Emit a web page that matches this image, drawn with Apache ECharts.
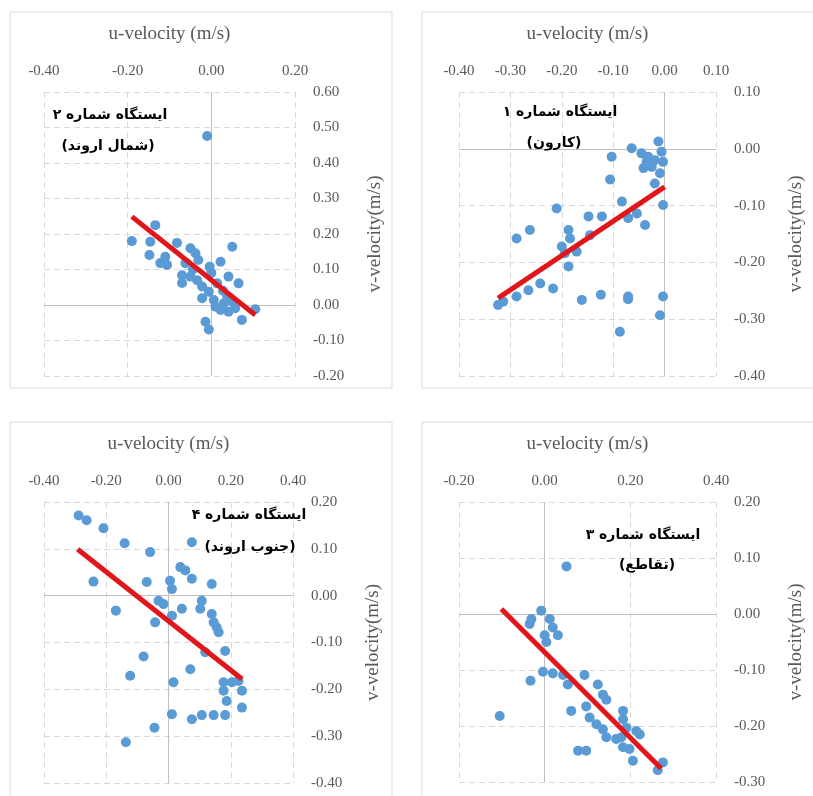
<!DOCTYPE html>
<html>
<head>
<meta charset="utf-8">
<script src="https://cdn.jsdelivr.net/npm/echarts@6/dist/echarts.min.js"></script>
<style>
  body { margin: 0; background: #fff; }
  #main { width: 813px; height: 796px; }
</style>
</head>
<body>
<div id="main"></div>
<script>
// station 2 (north arvand) - top left
const st2U = [-0.010, -0.190, -0.134, -0.146, -0.148, -0.122, -0.106, -0.110, -0.082, -0.050, -0.038, -0.031, -0.062, -0.070, -0.070, -0.050, -0.034, -0.022, -0.004, 0.022, 0.050, 0.041, 0.065, 0.014, -0.006, -0.022, 0.006, 0.030, 0.022, 0.041, 0.057, 0.073, 0.105, -0.014, -0.006, 0.038, -0.044, 0.000, 0.028, 0.010, 0.050];
const st2V = [0.476, 0.180, 0.225, 0.178, 0.141, 0.118, 0.113, 0.136, 0.175, 0.160, 0.146, 0.127, 0.118, 0.084, 0.062, 0.080, 0.070, 0.052, 0.108, 0.122, 0.164, 0.080, 0.061, 0.061, 0.037, 0.019, 0.014, 0.005, -0.014, -0.019, -0.009, -0.042, -0.012, -0.047, -0.069, 0.023, 0.100, 0.090, 0.040, -0.005, 0.010];
const st2Trend = [[-0.19, 0.249], [0.105, -0.028]];

// station 1 (karun) - top right
const st1U = [-0.324, -0.314, -0.288, -0.265, -0.242, -0.217, -0.288, -0.262, -0.210, -0.187, -0.184, -0.200, -0.194, -0.171, -0.187, -0.148, -0.122, -0.145, -0.161, -0.124, -0.071, -0.071, -0.087, -0.103, -0.106, -0.083, -0.071, -0.054, -0.038, -0.064, -0.045, -0.032, -0.012, -0.019, -0.003, -0.041, -0.025, -0.009, -0.019, -0.003, -0.003, -0.009, -0.006, -0.035];
const st1V = [-0.275, -0.269, -0.260, -0.249, -0.237, -0.246, -0.158, -0.143, -0.105, -0.143, -0.158, -0.172, -0.184, -0.181, -0.207, -0.119, -0.119, -0.152, -0.266, -0.257, -0.260, -0.265, -0.322, -0.014, -0.054, -0.093, -0.122, -0.114, -0.134, 0.001, -0.008, -0.014, 0.013, -0.020, -0.023, -0.034, -0.032, -0.043, -0.061, -0.099, -0.260, -0.293, -0.005, -0.023];
const st1Trend = [[-0.324, -0.263], [0.0, -0.067]];

// station 4 (south arvand) - bottom left
const st4U = [-0.289, -0.263, -0.209, -0.141, -0.059, 0.075, -0.241, -0.169, -0.070, 0.005, 0.011, 0.038, 0.054, 0.075, 0.139, -0.032, -0.016, -0.043, 0.011, 0.043, 0.107, 0.102, 0.139, 0.145, 0.155, 0.161, 0.118, 0.182, -0.080, -0.123, 0.070, 0.016, 0.177, 0.204, 0.177, 0.236, 0.187, 0.236, 0.011, 0.075, 0.107, 0.145, 0.182, -0.045, -0.137, 0.225];
const st4V = [0.171, 0.161, 0.144, 0.112, 0.093, 0.114, 0.030, -0.032, 0.029, 0.032, 0.014, 0.061, 0.054, 0.036, 0.025, -0.011, -0.018, -0.057, -0.043, -0.028, -0.011, -0.028, -0.039, -0.057, -0.068, -0.078, -0.121, -0.118, -0.130, -0.171, -0.157, -0.185, -0.185, -0.185, -0.203, -0.203, -0.225, -0.239, -0.253, -0.264, -0.255, -0.255, -0.255, -0.282, -0.313, -0.182];
const st4Trend = [[-0.292, 0.099], [0.236, -0.178]];

// station 3 (junction) - bottom right
const st3U = [0.051, -0.105, -0.033, -0.031, -0.035, -0.008, 0.012, 0.019, 0.031, 0.000, 0.004, -0.004, 0.019, 0.043, 0.054, 0.093, 0.124, 0.136, 0.144, 0.062, 0.097, 0.105, 0.121, 0.136, 0.144, 0.183, 0.183, 0.191, 0.214, 0.222, 0.179, 0.183, 0.198, 0.206, 0.078, 0.097, 0.264, 0.276, 0.167];
const st3V = [0.085, -0.182, -0.119, -0.009, -0.018, 0.006, -0.009, -0.024, -0.038, -0.038, -0.050, -0.103, -0.106, -0.109, -0.126, -0.109, -0.126, -0.144, -0.153, -0.173, -0.165, -0.185, -0.197, -0.206, -0.220, -0.173, -0.188, -0.203, -0.209, -0.215, -0.220, -0.238, -0.241, -0.262, -0.244, -0.244, -0.279, -0.265, -0.223];
const st3Trend = [[-0.101, 0.009], [0.272, -0.276]];

// axis ranges [min, max, interval]
const xRanges = [[-0.4, 0.2, 0.2], [-0.4, 0.1, 0.1], [-0.4, 0.4, 0.2], [-0.2, 0.4, 0.2]];
const yRanges = [[-0.2, 0.6, 0.1], [-0.4, 0.1, 0.1], [-0.4, 0.2, 0.1], [-0.3, 0.2, 0.1]];

const stationNames = ['ایستگاه شماره ۲', 'ایستگاه شماره ۱', 'ایستگاه شماره ۴', 'ایستگاه شماره ۳'];
const stationPlaces = ['(شمال اروند)', '(کارون)', '(جنوب اروند)', '(تقاطع)'];

const xName = 'u-velocity (m/s)';
const yName = 'v-velocity(m/s)';

const panels = [
    { u: st2U, v: st2V, trend: st2Trend },
    { u: st1U, v: st1V, trend: st1Trend },
    { u: st4U, v: st4V, trend: st4Trend },
    { u: st3U, v: st3V, trend: st3Trend }
];

// layout of the four plots
const grids = [
    { left: 44, top: 92, width: 251, height: 284 },
    { left: 459, top: 92, width: 257, height: 284 },
    { left: 44, top: 502, width: 249, height: 281 },
    { left: 459, top: 502, width: 257, height: 280 }
];
const frames = [
    [10, 12, 382, 376],
    [422, 12, 400, 376],
    [10, 422, 382, 390],
    [422, 422, 400, 390]
];
const notePos = [
    [110, 115, 108, 146],
    [560, 112, 554, 143],
    [249, 515, 250, 547],
    [643, 535, 647, 565]
];

const labelFont = { color: '#595959', fontFamily: 'Liberation Serif', fontSize: 15 };

let xAxis = [], yAxis = [], series = [], graphic = [];

panels.forEach(function (p, i) {
    xAxis.push({
        type: 'value',
        gridIndex: i,
        position: 'top',
        min: xRanges[i][0],
        max: xRanges[i][1],
        interval: xRanges[i][2],
        name: xName,
        nameLocation: 'middle',
        nameGap: 48,
        nameTextStyle: { color: '#595959', fontFamily: 'Liberation Serif', fontSize: 19 },
        axisLine: { show: false },
        axisTick: { show: false },
        axisLabel: Object.assign({ margin: 13, formatter: v => v.toFixed(2) }, labelFont),
        splitLine: { show: true, lineStyle: { color: '#d9d9d9', type: [6, 4] } }
    });
    yAxis.push({
        type: 'value',
        gridIndex: i,
        position: 'right',
        min: yRanges[i][0],
        max: yRanges[i][1],
        interval: yRanges[i][2],
        name: yName,
        nameLocation: 'middle',
        nameRotate: 90,
        nameGap: 71,
        nameTextStyle: { color: '#595959', fontFamily: 'Liberation Serif', fontSize: 19 },
        axisLine: { show: false },
        axisTick: { show: false },
        axisLabel: Object.assign({ margin: 18, formatter: v => v.toFixed(2) }, labelFont),
        splitLine: { show: true, lineStyle: { color: '#d9d9d9', type: [6, 4] } }
    });

    series.push({
        type: 'scatter',
        xAxisIndex: i,
        yAxisIndex: i,
        symbolSize: 10,
        itemStyle: { color: '#5b9bd5', opacity: 1 },
        data: p.u.map((x, k) => [x, p.v[k]]),
        markLine: {
            silent: true,
            z: 1,
            symbol: 'none',
            label: { show: false },
            lineStyle: { color: '#bfbfbf', type: 'solid', width: 1 },
            data: [{ xAxis: 0 }, { yAxis: 0 }]
        },
        z: 3
    });
    series.push({
        type: 'line',
        xAxisIndex: i,
        yAxisIndex: i,
        showSymbol: false,
        lineStyle: { color: '#e0161b', width: 5 },
        data: p.trend,
        z: 4
    });

    const f = frames[i];
    graphic.push({
        type: 'rect',
        shape: { x: f[0], y: f[1], width: f[2], height: f[3] },
        style: { fill: 'none', stroke: '#d9d9d9', lineWidth: 1 },
        z: -1
    });
    const n = notePos[i];
    graphic.push({
        type: 'text',
        x: n[0], y: n[1],
        style: { text: stationNames[i], textAlign: 'center', textVerticalAlign: 'middle', font: 'bold 14px "DejaVu Sans"', fill: '#000' },
        z: 10
    });
    graphic.push({
        type: 'text',
        x: n[2], y: n[3],
        style: { text: stationPlaces[i], textAlign: 'center', textVerticalAlign: 'middle', font: 'bold 14px "DejaVu Sans"', fill: '#000' },
        z: 10
    });
});

const myChart = echarts.init(document.getElementById('main'));
myChart.setOption({
    animation: false,
    grid: grids,
    xAxis: xAxis,
    yAxis: yAxis,
    series: series,
    graphic: graphic
});
</script>
</body>
</html>
